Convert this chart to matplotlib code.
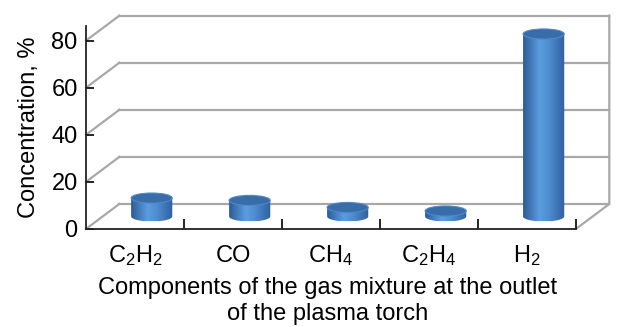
import numpy as np
import matplotlib.pyplot as plt
from matplotlib.patches import Ellipse, PathPatch
from matplotlib.path import Path
from matplotlib.colors import LinearSegmentedColormap

plt.rcParams['font.family'] = 'Liberation Sans'
plt.rcParams['mathtext.fontset'] = 'custom'
plt.rcParams['mathtext.rm'] = 'Liberation Sans'
plt.rcParams['mathtext.it'] = 'Liberation Sans'
plt.rcParams['mathtext.default'] = 'regular'

# data
components = ['C$_2$H$_2$', 'CO', 'CH$_4$', 'C$_2$H$_4$', 'H$_2$']
concentration = [7.8, 6.8, 3.8, 2.3, 77.5]
y_ticks = [0, 20, 40, 60, 80]

fig = plt.figure(figsize=(6.19, 3.27), dpi=100)
ax = fig.add_axes([0.139, 0.300, 0.7915, 0.6205])
n = len(components)

# depth of the fake 3d box (data units)
dx, dy = 0.34, 10.6
grid_c = '#a8a8a8'

# back wall gridlines + side wall diagonals
for y in y_ticks:
    ax.plot([dx, n + dx], [y + dy, y + dy], color=grid_c, lw=1.6, clip_on=False, zorder=1)
    ax.plot([0, dx], [y, y + dy], color=grid_c, lw=1.6, clip_on=False, zorder=1)
# right edge of floor and back wall
ax.plot([n, n + dx, n + dx], [0, dy, y_ticks[-1] + dy], color=grid_c, lw=1.6, clip_on=False, zorder=1)

# cylinders
cmap = LinearSegmentedColormap.from_list('cyl', [(0, '#2d5c98'), (0.4, '#5b9de0'),
                                                 (0.62, '#4d8dd0'), (1, '#2f609f')])
grad = np.linspace(0, 1, 100).reshape(1, -1)
w = 0.42      # bar width
eh = 4.3      # ellipse height
t = np.linspace(np.pi, 2 * np.pi, 40)
for i, v in enumerate(concentration):
    xc = i + 0.5 + dx / 2
    base = dy / 2
    top = base + v
    x0, x1 = xc - w / 2, xc + w / 2
    pts = [(x0, top), (x0, base)]
    pts += list(zip(xc + w / 2 * np.cos(t), base + eh / 2 * np.sin(t)))
    pts += [(x1, top), (x0, top)]
    body = PathPatch(Path(pts), transform=ax.transData)
    im = ax.imshow(grad, extent=[x0, x1, base - eh / 2, top], aspect='auto',
                   cmap=cmap, zorder=3, interpolation='bilinear')
    im.set_clip_path(body)
    ax.add_patch(Ellipse((xc, top), w, eh, facecolor='#386daa', edgecolor='#5288c8',
                         lw=0.8, zorder=4))

ax.set_xlim(0, n)
ax.set_ylim(0, 86.2)

ax.set_yticks(y_ticks)
ax.set_xticks(np.arange(n) + 0.5, labels=components)
ax.set_xticks(np.arange(1, n + 1), minor=True)
ax.tick_params(axis='x', which='major', length=0, pad=24, labelsize=17)
ax.tick_params(axis='x', which='minor', direction='in', length=7, width=1.2)
ax.tick_params(axis='y', direction='in', length=6, width=1.2, pad=6, labelsize=17)
for lbl in ax.get_xticklabels():
    lbl.set_va('baseline')

for s in ['top', 'right']:
    ax.spines[s].set_visible(False)
for s in ['left', 'bottom']:
    ax.spines[s].set_linewidth(1.3)
    ax.spines[s].set_color('#222222')

ax.set_ylabel('Concentration, %', fontsize=17, labelpad=8)
ax.set_xlabel('Components of the gas mixture at the outlet\nof the plasma torch',
              fontsize=17, linespacing=1.27, va='baseline')
ax.xaxis.set_label_coords(0.493, -0.450)

fig.savefig('out.png', dpi=100)
